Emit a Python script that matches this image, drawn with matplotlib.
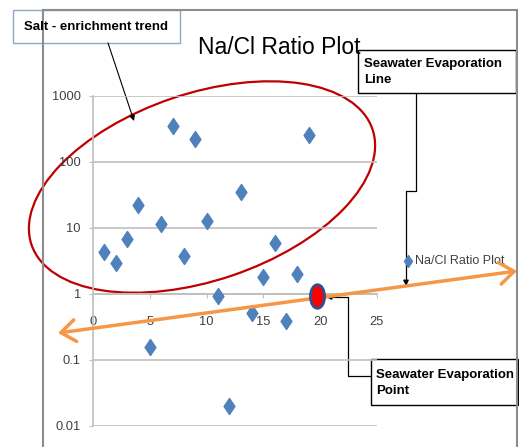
import matplotlib
matplotlib.use('Agg')
import matplotlib.pyplot as plt
from matplotlib.patches import Ellipse, Rectangle, FancyArrowPatch
from matplotlib.path import Path
from matplotlib.ticker import NullLocator
import numpy as np

# ---------------- data ----------------
sample_no = list(range(1, 20))
na_cl_ratio = [4.3, 2.9, 6.8, 22, 0.16, 11.5, 350, 3.8, 220, 12.8,
               0.92, 0.02, 35, 0.51, 1.8, 5.9, 0.39, 2.0, 255]
seawater_x = [19.7]
seawater_y = [0.93]
x_ticks = [0, 5, 10, 15, 20, 25]
y_ticks = [0.01, 0.1, 1, 10, 100, 1000]
y_tick_labels = ['0.01', '0.1', '1', '10', '100', '1000']

FAM = ['Liberation Sans', 'DejaVu Sans']
plt.rcParams['font.family'] = FAM

W, H = 519, 447
fig = plt.figure(figsize=(W / 100, H / 100), dpi=100)

# overlay in pixel coordinates for decorations
ov = fig.add_axes([0, 0, 1, 1], zorder=0)
ov.set_xlim(0, W)
ov.set_ylim(H, 0)
ov.axis('off')
ov.patch.set_alpha(0)

# main chart axes
ax = fig.add_axes([93 / W, 1 - 426 / H, 284 / W, 330 / H], zorder=1)
ax.patch.set_alpha(0)
ax.set_yscale('log')
ax.set_xlim(0, 25)
ax.set_ylim(0.01, 1000)
ax.set_xticks(x_ticks)
ax.set_xticklabels([str(t) for t in x_ticks])
ax.set_yticks(y_ticks)
ax.set_yticklabels(y_tick_labels)
ax.yaxis.set_minor_locator(NullLocator())
ax.xaxis.set_minor_locator(NullLocator())
ax.yaxis.grid(True, color='#BFBFBF', lw=1.2)
ax.set_axisbelow(True)
for s in ('top', 'right'):
    ax.spines[s].set_visible(False)
ax.spines['left'].set_color('#BFBFBF')
ax.spines['left'].set_linewidth(1.2)
ax.spines['bottom'].set_position(('data', 1))
ax.spines['bottom'].set_color('#BFBFBF')
ax.spines['bottom'].set_linewidth(1.2)
ax.tick_params(axis='x', direction='out', length=3, color='#BFBFBF',
               labelsize=9.3, labelcolor='#404040', pad=13)
ax.tick_params(axis='y', direction='out', length=3, color='#BFBFBF',
               labelsize=9.3, labelcolor='#404040', pad=5.8)

diamond = Path([(0, 1), (0.68, 0), (0, -1), (-0.68, 0), (0, 1)],
               [Path.MOVETO, Path.LINETO, Path.LINETO, Path.LINETO, Path.CLOSEPOLY])
ax.plot(sample_no, na_cl_ratio, linestyle='none', marker=diamond,
        markersize=11.5, color='#4F81BD', clip_on=False, zorder=3)

# orange seawater evaporation line (double arrow), drawn above grid
orange = FancyArrowPatch((58, 333), (517, 271), transform=ov.transData,
                         arrowstyle='<->,head_length=0.8,head_width=0.6',
                         mutation_scale=13, lw=2.5, color='#F79646',
                         shrinkA=0, shrinkB=0, clip_on=False, zorder=3.5)
ax.add_patch(orange)

# seawater evaporation point
circ = Path.unit_circle()
ell_marker = Path(circ.vertices * np.array([0.6, 1.0]), circ.codes)
ax.plot(seawater_x, seawater_y, linestyle='none', marker=ell_marker,
        markersize=17, markerfacecolor='#FF0000', markeredgecolor='#2F528F',
        markeredgewidth=2, clip_on=False, zorder=4)

# ---------------- decorations ----------------
frame_c = '#8C8C8C'
ov.plot([43, 43], [H, 10], color=frame_c, lw=1.5)
ov.plot([43, 517], [10, 10], color=frame_c, lw=1.5)
ov.plot([517, 517], [10, H], color=frame_c, lw=1.5)

ov.text(279, 48, 'Na/Cl Ratio Plot', fontsize=16.5, ha='center', va='center',
        color='black')

# salt enrichment ellipse
ov.add_patch(Ellipse((202, 187), 360, 187, angle=-18.7, fill=False,
                     ec='#C00000', lw=1.6))

# salt enrichment label
ov.add_patch(Rectangle((13, 10), 167, 33, fill=False, ec='#8EA9C8', lw=1))
ov.text(24, 27, 'Salt - enrichment trend', fontsize=9.5, fontweight='bold',
        ha='left', va='center', color='black')
ov.add_patch(FancyArrowPatch((108, 43), (134, 121), arrowstyle='-|>',
                             mutation_scale=8, lw=0.8, color='black',
                             shrinkA=0, shrinkB=0))

# seawater evaporation line label
ov.add_patch(Rectangle((358, 50), 158, 43, fc='white', ec='black', lw=1))
ov.text(364, 72, 'Seawater Evaporation\nLine', fontsize=9.5, fontweight='bold',
        ha='left', va='center', color='black', linespacing=1.45)
p1 = Path([(416, 93), (416, 191), (406, 191), (406, 286)])
ov.add_patch(FancyArrowPatch(path=p1, arrowstyle='-|>', mutation_scale=8,
                             lw=0.9, color='black', shrinkA=0, shrinkB=0))

# seawater evaporation point label
ov.add_patch(Rectangle((371, 359), 147, 46, fc='white', ec='black', lw=1))
ov.text(376, 383, 'Seawater Evaporation\nPoint', fontsize=9.5, fontweight='bold',
        ha='left', va='center', color='black', linespacing=1.45)
p2 = Path([(371, 376), (348, 376), (348, 297), (326, 297)])
ov.add_patch(FancyArrowPatch(path=p2, arrowstyle='-|>', mutation_scale=8,
                             lw=0.9, color='black', shrinkA=0, shrinkB=0))

# legend
ov.plot([408], [261], linestyle='none', marker=diamond, markersize=8.5,
        color='#4F81BD')
ov.text(415, 261, 'Na/Cl Ratio Plot', fontsize=9, ha='left', va='center',
        color='#404040')

fig.savefig('out.png', dpi=100)
